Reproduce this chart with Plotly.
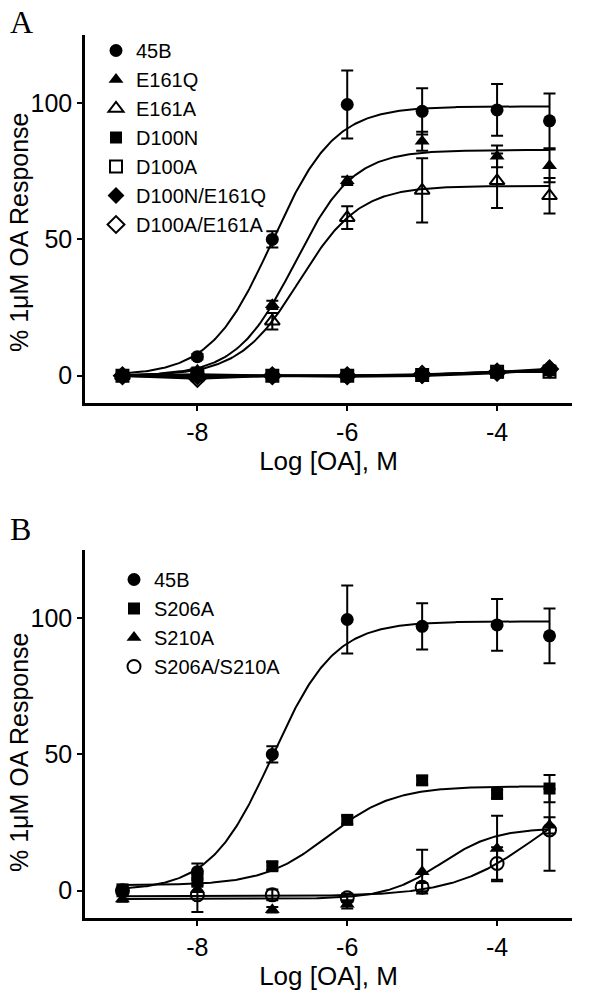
import numpy as np
import plotly.graph_objects as go

# ---------------- data ----------------
log_oa = [-9, -8, -7, -6, -5, -4, -3.3]

# Panel A
a_45b = [0, 7, 50, 99.5, 97, 97.5, 93.5]
a_45b_err = [0.5, 1, 3, 12.5, 8.5, 9.5, 10]
a_e161q = [0, 2, 26, 71.5, 86, 80.5, 77]
a_e161q_err = [0.5, 1, 1.5, 1.5, 3.5, 4, 6]
a_e161a = [0, 1, 20, 58, 68, 71.5, 66]
a_e161a_err = [0.5, 1, 3, 4.2, 11.8, 10, 6.5]
a_d100n = [0, 0, 0, 0, 0.3, 1.2, 2]
a_d100a = [0, 0.5, 0, 0, 0.3, 1.5, 1.5]
a_d100n_e161q = [0, -0.5, 0, -0.3, 0, 1, 2.2]
a_d100a_e161a = [0, -1, 0, 0, 0.5, 1.3, 2.5]
a_flat_err = [1, 1, 1, 1, 1, 1, 1]

# Panel B
b_45b = [0, 7, 50, 99.5, 97, 97.5, 93.5]
b_45b_err = [0.5, 3, 3, 12.5, 8.5, 9.5, 10]
b_s206a = [0.5, 4, 9, 26, 40.5, 35.5, 37.5]
b_s206a_err = [1, 2, 1.5, 1.5, 1.5, 1.5, 5]
b_s210a = [-3, 0.5, -7, -5, 7, 15.5, 24]
b_s210a_err = [1, 1, 1, 1.5, 8, 12, 3]
b_dbl = [0, -1.5, -1.5, -2.6, 1.3, 10, 22.3]
b_dbl_err = [1, 6.3, 2, 1.5, 1.5, 6, 15]

# sigmoidal fit parameters: bottom, top, logEC50, hill
fit_a_45b = (0, 98.8, -7.0, 1.05)
fit_a_e161q = (0, 82.8, -6.70, 1.12)
fit_a_e161a = (0, 69.6, -6.64, 1.09)
fit_b_45b = (0, 98.8, -7.0, 1.05)
fit_b_s206a = (2, 38.3, -6.25, 1.0)
fit_b_s210a = (-3, 23, -4.75, 1.2)
fit_b_dbl = (-2, 40, -3.5, 0.8)

x_ticks = [-8, -6, -4]
x_tick_text = ["-8", "-6", "-4"]
y_ticks = [0, 50, 100]
y_tick_text = ["0", "50", "100"]
y_title = "% 1μM OA Response"
x_title = "Log [OA], M"

# ---------------- figure ----------------
FONT = "Liberation Sans, Arial, sans-serif"
SERIF = "Liberation Serif, Times New Roman, serif"
xs = np.linspace(log_oa[0], log_oa[-1], 300)


def hill(p):
    b, t, c, h = p
    return b + (t - b) / (1 + 10 ** ((c - xs) * h))


fig = go.Figure()


def add_curve(p, xa, ya):
    fig.add_trace(go.Scatter(x=xs, y=hill(p), mode="lines",
                             line=dict(color="black", width=2),
                             showlegend=False, hoverinfo="skip",
                             xaxis=xa, yaxis=ya))


def add_connect(y, xa, ya):
    fig.add_trace(go.Scatter(x=log_oa, y=y, mode="lines",
                             line=dict(color="black", width=2.5),
                             showlegend=False, hoverinfo="skip",
                             xaxis=xa, yaxis=ya))


def add_points(name, y, err, symbol, xa, ya, legend, size=13):
    open_ = symbol.endswith("-open")
    fig.add_trace(go.Scatter(
        x=log_oa, y=y, name=name, mode="markers",
        marker=dict(symbol=symbol, size=size, color="black",
                    line=dict(color="black", width=2 if open_ else 0)),
        error_y=dict(type="data", array=err, visible=True,
                     color="black", thickness=2, width=6),
        xaxis=xa, yaxis=ya, legend=legend))


# Panel A
add_curve(fit_a_45b, "x", "y")
add_curve(fit_a_e161q, "x", "y")
add_curve(fit_a_e161a, "x", "y")
for series in (a_d100n, a_d100a, a_d100n_e161q, a_d100a_e161a):
    add_connect(series, "x", "y")
add_points("45B", a_45b, a_45b_err, "circle", "x", "y", "legend")
add_points("E161Q", a_e161q, a_e161q_err, "triangle-up", "x", "y", "legend")
add_points("E161A", a_e161a, a_e161a_err, "triangle-up-open", "x", "y", "legend")
add_points("D100N", a_d100n, a_flat_err, "square", "x", "y", "legend", size=12)
add_points("D100A", a_d100a, a_flat_err, "square-open", "x", "y", "legend", size=12)
add_points("D100N/E161Q", a_d100n_e161q, a_flat_err, "diamond", "x", "y", "legend")
add_points("D100A/E161A", a_d100a_e161a, a_flat_err, "diamond-open", "x", "y", "legend")

# Panel B
add_curve(fit_b_45b, "x2", "y2")
add_curve(fit_b_s206a, "x2", "y2")
add_curve(fit_b_s210a, "x2", "y2")
add_curve(fit_b_dbl, "x2", "y2")
add_points("45B", b_45b, b_45b_err, "circle", "x2", "y2", "legend2")
add_points("S206A", b_s206a, b_s206a_err, "square", "x2", "y2", "legend2", size=12)
add_points("S210A", b_s210a, b_s210a_err, "triangle-up", "x2", "y2", "legend2")
add_points("S206A/S210A", b_dbl, b_dbl_err, "circle-open", "x2", "y2", "legend2")

axis_common = dict(showline=True, linecolor="black", linewidth=2.5,
                   ticks="outside", ticklen=5, tickwidth=2, tickcolor="black",
                   showgrid=False, zeroline=False, mirror=False, automargin=False,
                   tickfont=dict(family=FONT, size=25, color="black"))

xcommon = dict(axis_common, range=[-9.5, -3], tickvals=x_ticks, ticktext=x_tick_text,
               title=dict(text=x_title, font=dict(family=FONT, size=26, color="black"),
                          standoff=8))
ycommon = dict(axis_common, range=[-10, 125], tickvals=y_ticks, ticktext=y_tick_text)

# page body margin is removed below, so screen pixels == figure pixels
OFF = 0
W, H = 600, 999
PL, PR, PT, PB = 85, 572, 35, 918          # plot area in screen pixels
ML, MR, MT, MB = PL - OFF, W - (PR - OFF), PT - OFF, H - (PB - OFF)
plot_w = W - ML - MR
plot_h = H - MT - MB
top_a = 1.0
bot_a = 1 - 368 / plot_h
top_b = 368 / plot_h


def px_x(px):
    return (px - OFF - ML) / plot_w


def px_y(py):
    return (H - MB - (py - OFF)) / plot_h


ytitle_font = dict(family=FONT, size=25, color="black")
letter_font = dict(family=SERIF, size=32, color="black")


def note(text, sx, sy, font, angle=0):
    return dict(text=text, x=px_x(sx), y=px_y(sy), xref="paper", yref="paper",
                xanchor="center", yanchor="middle", textangle=angle,
                showarrow=False, font=font)


fig.update_layout(
    width=W, height=H,
    margin=dict(l=ML, r=MR, t=MT, b=MB),
    paper_bgcolor="white", plot_bgcolor="white",
    xaxis=dict(xcommon, anchor="y", domain=[0, 1]),
    yaxis=dict(ycommon, anchor="x", domain=[bot_a, top_a]),
    xaxis2=dict(xcommon, anchor="y2", domain=[0, 1]),
    yaxis2=dict(ycommon, anchor="x2", domain=[0, top_b]),
    legend=dict(x=px_x(96), y=px_y(31), xanchor="left", yanchor="top",
                font=dict(family=FONT, size=20, color="black"),
                bgcolor="rgba(0,0,0,0)", tracegroupgap=0),
    legend2=dict(x=px_x(114), y=px_y(560), xanchor="left", yanchor="top",
                 font=dict(family=FONT, size=20, color="black"),
                 bgcolor="rgba(0,0,0,0)", tracegroupgap=0),
    annotations=[
        note("A", 21, 22, letter_font),
        note("B", 20, 529, letter_font),
        note(y_title, 19, 232, ytitle_font, -90),
        note(y_title, 19, 752, ytitle_font, -90),
    ],
)

fig.write_html("out.html",
               config={"displayModeBar": False},
               post_script="document.body.style.margin='0';"
                           "document.body.style.overflow='hidden';")
